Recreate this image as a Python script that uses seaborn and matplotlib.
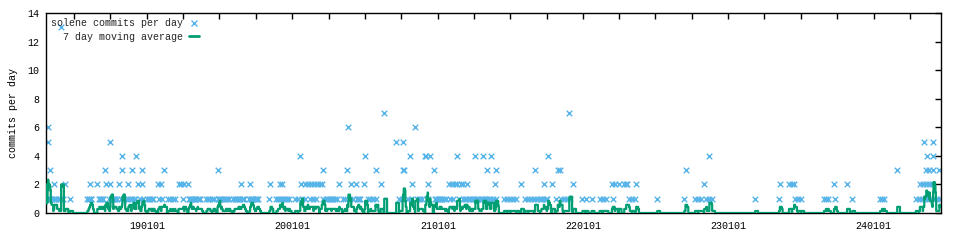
import numpy as np
import pandas as pd
import matplotlib
matplotlib.use("Agg")
import matplotlib.pyplot as plt
import matplotlib.dates as mdates
from matplotlib.lines import Line2D
from matplotlib.ticker import FuncFormatter
import seaborn as sns

# ---- data: commit days (offset in days from 2019-01-01) grouped by number of commits
origin = "2019-01-01"
days_1 = [-251, -247, -245, -238, -235, -231, -228, -224, -220, -212, -193, -150, -147,
          -145, -141, -140, -120, -118, -115, -113, -110, -95, -89, -87, -84, -82, -80,
          -75, -65, -59, -57, -50, -44, -37, -34, -31, -19, -9, 1, 4, 8, 12, 16, 31, 38,
          52, 58, 64, 70, 91, 106, 108, 110, 114, 116, 121, 124, 127, 131, 134, 149, 152,
          156, 164, 167, 179, 181, 183, 187, 194, 198, 202, 206, 217, 220, 224, 227, 230,
          232, 239, 241, 244, 257, 261, 262, 264, 266, 272, 274, 277, 279, 307, 325, 329,
          332, 336, 345, 348, 352, 356, 372, 380, 389, 396, 409, 416, 424, 443, 449, 453,
          456, 460, 464, 467, 471, 477, 492, 497, 511, 518, 528, 531, 533, 536, 556, 561,
          568, 576, 634, 641, 656, 664, 679, 683, 686, 690, 707, 723, 726, 730, 733, 735,
          738, 742, 745, 750, 760, 768, 785, 793, 798, 801, 808, 811, 816, 819, 823, 828,
          831, 838, 841, 846, 850, 853, 858, 861, 868, 876, 897, 905, 913, 920, 928, 950,
          958, 965, 973, 980, 988, 991, 995, 1003, 1005, 1028, 1039, 1047, 1054, 1062,
          1094, 1102, 1117, 1137, 1145, 1152, 1170, 1211, 1219, 1227, 1282, 1350, 1377,
          1385, 1392, 1405, 1412, 1420, 1528, 1588, 1628, 1636, 1644, 1701, 1706, 1711,
          1729, 1772, 1842, 1847, 1852, 1932, 1940, 1947, 1955, 1963, 1970, 1978, 1985,
          1993]
days_2 = [-254, -233, -205, -143, -125, -102, -93, -70, -47, -24, -14, 28, 36, 79, 86, 94,
          104, 237, 259, 310, 334, 340, 388, 398, 404, 411, 419, 426, 434, 439, 483, 513,
          526, 546, 587, 666, 705, 758, 765, 773, 780, 788, 795, 803, 875, 940, 997, 1018,
          1071, 1168, 1177, 1185, 1199, 1204, 1206, 1229, 1400, 1590, 1613, 1621, 1626,
          1726, 1759, 1942, 1950, 1957, 1965, 1973]
days_3 = [-243, -105, -63, -39, -12, 43, 177, 441, 503, 574, 643, 645, 721, 855, 877, 975,
          1032, 1037, 1353, 1885, 1958, 1966, 1974, 1991]
days_4 = [-62, -27, 385, 548, 661, 699, 702, 711, 779, 825, 845, 865, 1008, 1413, 1960, 1975]
days_5 = [-250, -92, 626, 642, 1953, 1976]
days_6 = [-249, 506, 674]
days_7 = [596, 1061]
days_13 = [-216]

y_ticks = [0, 2, 4, 6, 8, 10, 12, 14]
series_label = "solene commits per day"
avg_label = "7 day moving average"
y_label = "commits per day"

# ---- build tables
base = pd.Timestamp(origin)
rows = []
for cnt, lst in [(1, days_1), (2, days_2), (3, days_3), (4, days_4), (5, days_5),
                 (6, days_6), (7, days_7), (13, days_13)]:
    for d in lst:
        rows.append((base + pd.Timedelta(days=d), cnt))
df = (pd.DataFrame(rows, columns=["date", "commits"])
      .groupby("date", as_index=False)["commits"].max()
      .sort_values("date"))
full = pd.date_range(df["date"].min(), df["date"].max(), freq="D")
daily = df.set_index("date")["commits"].reindex(full, fill_value=0)
ma_df = pd.DataFrame({"date": full, "ma": daily.rolling(7, min_periods=1).mean().values})

# ---- plot
sns.set_theme(style="white")
FONT = ["Liberation Mono", "DejaVu Sans Mono"]
plt.rcParams["font.family"] = FONT
FS = 7.2

fig = plt.figure(figsize=(9.6, 2.4), dpi=100)
ax = fig.add_axes([46 / 960, 27 / 240, 895 / 960, 200 / 240])

sns.scatterplot(data=df, x="date", y="commits", marker="x", color="#56b4e9", s=16,
                linewidth=1.0, ax=ax, legend=False, zorder=2)
sns.lineplot(data=ma_df, x="date", y="ma", color="#009e73", linewidth=1.6,
             drawstyle="steps-post", estimator=None, ax=ax, legend=False, zorder=3)

ax.set_xlim(pd.Timestamp("2018-04-22"), pd.Timestamp("2024-06-18"))
ax.set_ylim(0, 14)
ax.set_yticks(y_ticks)
ax.xaxis.set_major_locator(mdates.MonthLocator(bymonth=[1, 4, 7, 10]))


def fmt(x, pos):
    d = mdates.num2date(x)
    return d.strftime("%y%m%d") if d.month == 1 else ""


ax.xaxis.set_major_formatter(FuncFormatter(fmt))
ax.tick_params(axis="both", direction="in", length=4, width=1, color="black",
               top=True, right=True, labelsize=FS, labelcolor="black")
ax.tick_params(axis="y", pad=5)
ax.tick_params(axis="x", pad=6)
for s in ax.spines.values():
    s.set_color("black")
    s.set_linewidth(1)
ax.set_xlabel("")
ax.set_ylabel(y_label, fontsize=FS, color="black")
ax.yaxis.set_label_coords(-(46 - 18) / 895, 0.5)

handles = [Line2D([], [], ls="none", marker="x", color="#56b4e9", markersize=4, mew=1),
           Line2D([], [], color="#009e73", lw=2)]
ax.legend(handles, [series_label, "  " + avg_label], loc="upper left",
          bbox_to_anchor=(5 / 895, 1 - 5.5 / 200), frameon=False, markerfirst=False,
          handlelength=1.0, handletextpad=0.6, labelspacing=0.35, borderpad=0,
          borderaxespad=0, prop={"family": FONT, "size": FS})

fig.savefig("out.png", dpi=100)
